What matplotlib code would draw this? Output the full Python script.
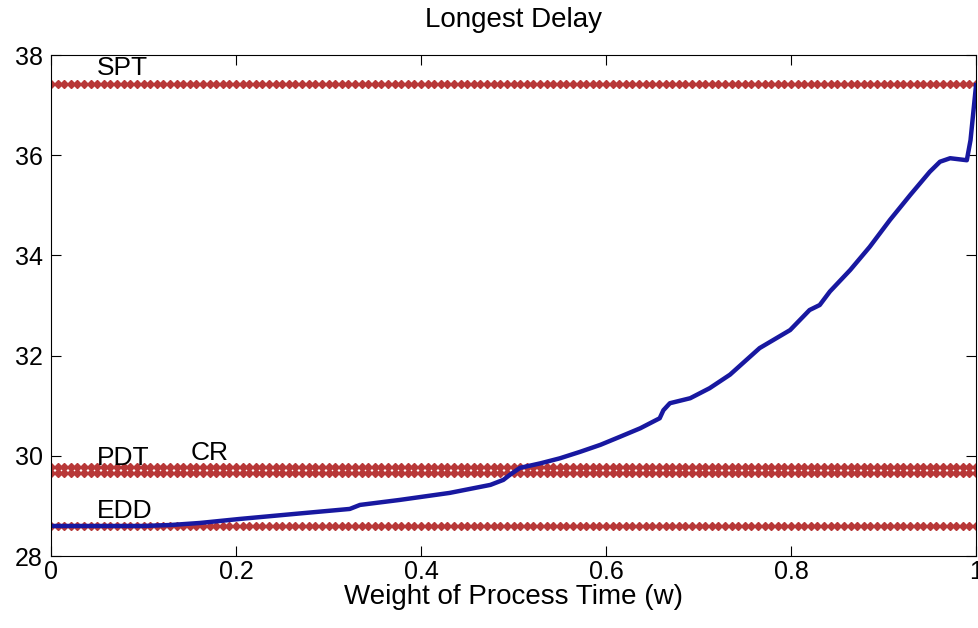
import numpy as np
import matplotlib
matplotlib.use("Agg")
import matplotlib.pyplot as plt

plt.rcParams['font.family'] = ['Liberation Sans', 'DejaVu Sans']

# weighted rule curve
w_curve = [0.0, 0.05, 0.10, 0.13, 0.161, 0.204, 0.269, 0.323, 0.334, 0.377, 0.431,
           0.475, 0.489, 0.496, 0.507, 0.529, 0.55, 0.572, 0.594, 0.615, 0.637,
           0.658, 0.662, 0.669, 0.691, 0.712, 0.734, 0.766, 0.799, 0.82, 0.831,
           0.842, 0.864, 0.885, 0.907, 0.929, 0.95, 0.961, 0.972, 0.99, 0.994, 1.0]
delay_curve = [28.6, 28.6, 28.6, 28.62, 28.66, 28.74, 28.85, 28.94, 29.02, 29.12, 29.26,
               29.42, 29.52, 29.62, 29.76, 29.85, 29.95, 30.08, 30.22, 30.38, 30.55,
               30.75, 30.91, 31.05, 31.15, 31.35, 31.62, 32.15, 32.51, 32.91, 33.01,
               33.28, 33.71, 34.17, 34.71, 35.21, 35.67, 35.87, 35.94, 35.9, 36.3, 37.4]

# single-rule reference levels
rule_names = ["SPT", "PDT", "CR", "EDD"]
rule_delay = [37.42, 29.78, 29.65, 28.6]
label_pos = [(0.05, 37.74), (0.05, 29.96), (0.151, 30.05), (0.05, 28.9)]

w_grid = np.linspace(0, 1, 141)

fig = plt.figure(figsize=(9.79, 6.28), dpi=100)
ax = fig.add_axes([0.0521, 0.1146, 0.9449, 0.7978])

for d in rule_delay:
    ax.plot(w_grid, np.full_like(w_grid, d), linestyle=':', color='#b83838',
            marker='D', markersize=3.6, linewidth=1.4)

ax.plot(w_curve, delay_curve, color='#1818a0', linewidth=3.2)

for name, (x, y) in zip(rule_names, label_pos):
    ax.text(x, y, name, fontsize=19, va='center', ha='left')

ax.set_xlim(0, 1)
ax.set_ylim(28, 38)
ax.set_xticks([0, 0.2, 0.4, 0.6, 0.8, 1])
ax.set_xticklabels(['0', '0.2', '0.4', '0.6', '0.8', '1'])
ax.set_yticks([28, 30, 32, 34, 36, 38])
ax.tick_params(direction='in', length=7, labelsize=18, top=True, right=True,
               labeltop=False, labelright=False)
ax.tick_params(axis='x', pad=3)
ax.tick_params(axis='y', pad=6)
ax.set_xlabel("Weight of Process Time (w)", fontsize=20, labelpad=0)
ax.set_title("Longest Delay", fontsize=20, pad=20)

fig.savefig("out.png", dpi=100)
